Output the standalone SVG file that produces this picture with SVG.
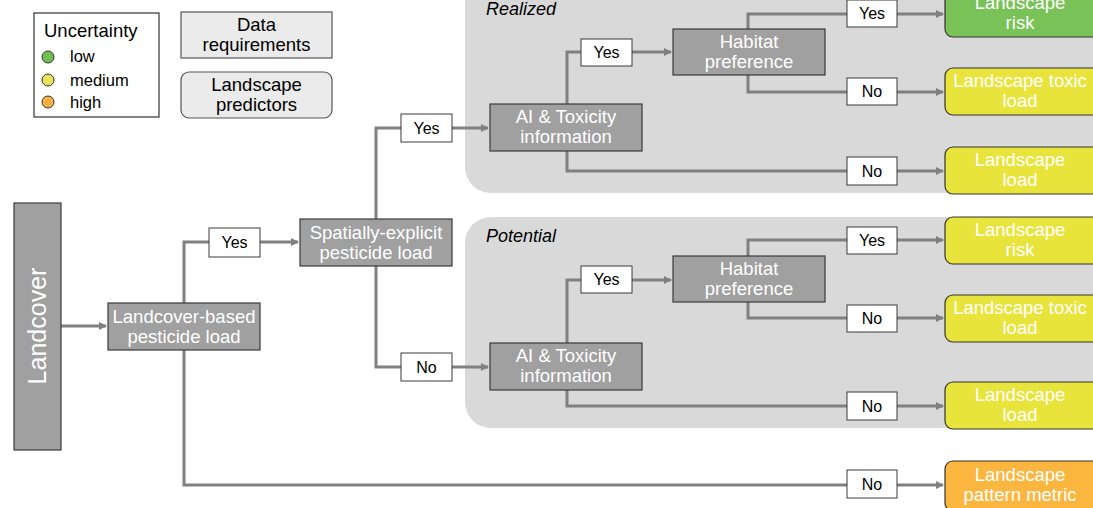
<svg xmlns="http://www.w3.org/2000/svg" width="1093" height="508" viewBox="0 0 1093 508">
<defs>
<marker id="ah" markerWidth="8" markerHeight="8" refX="7" refY="4" orient="auto" markerUnits="userSpaceOnUse">
<path d="M0,0 L8,4 L0,8 Z" fill="#808080"/>
</marker>
<style>
text{font-family:"Liberation Sans",Arial,sans-serif;}
.panel{fill:#d9d9d9;stroke:none;}
.gbox{fill:#a0a0a0;stroke:#3a3a3a;stroke-width:1.2;}
.gt{fill:#ffffff;font-size:18.5px;text-anchor:middle;}
.lab{fill:#ffffff;stroke:#3a3a3a;stroke-width:1;}
.lt{fill:#000;font-size:16px;text-anchor:middle;}
.kt{fill:#000;font-size:18.5px;text-anchor:middle;}
.out{stroke:#333;stroke-width:1.2;}
.green{fill:#78c257;}
.yellow{fill:#e8e43c;}
.orange{fill:#fbb640;}
.con{fill:none;stroke:#808080;stroke-width:3;}
.arr{fill:none;stroke:#808080;stroke-width:3;marker-end:url(#ah);}
.pl{fill:#000;font-size:18px;font-style:italic;}
.leg{fill:#000;font-size:16.5px;}
</style>
</defs>
<rect width="1093" height="508" fill="#ffffff"/>

<g id="panel-realized">
<rect class="panel" x="465" y="-40" width="660" height="233" rx="26"/>
<text class="pl" x="486" y="15">Realized</text>
</g>
<g id="panel-potential">
<rect class="panel" x="465" y="217" width="660" height="211" rx="26"/>
<text class="pl" x="486" y="242">Potential</text>
</g>

<g id="legend">
<rect x="34" y="13" width="125" height="104" fill="#fff" stroke="#333" stroke-width="1.2"/>
<text x="44" y="37" style="font-size:18.5px" fill="#000">Uncertainty</text>
<circle cx="48" cy="57" r="6" fill="#70c050" stroke="#333" stroke-width="1"/>
<text class="leg" x="70" y="62">low</text>
<circle cx="48" cy="80" r="6" fill="#e8e45a" stroke="#333" stroke-width="1"/>
<text class="leg" x="70" y="86">medium</text>
<circle cx="48" cy="102" r="6" fill="#fbb040" stroke="#333" stroke-width="1"/>
<text class="leg" x="70" y="108">high</text>
</g>
<g id="key-data">
<rect x="181" y="12" width="151" height="46" fill="#ebebeb" stroke="#555" stroke-width="1.2"/>
<text class="kt" x="256.5" y="31">Data</text>
<text class="kt" x="256.5" y="51">requirements</text>
</g>
<g id="key-predictors">
<rect x="181" y="72" width="151" height="46" rx="8" fill="#ebebeb" stroke="#555" stroke-width="1.2"/>
<text class="kt" x="256.5" y="91">Landscape</text>
<text class="kt" x="256.5" y="111">predictors</text>
</g>

<g id="connectors">
<path class="arr" d="M61,326 H106"/>
<path class="con" d="M184,303 V242 H209"/>
<path class="arr" d="M260,242 H298"/>
<path class="con" d="M376,219 V128 H401"/>
<path class="arr" d="M452,128 H488"/>
<path class="con" d="M376,266 V367 H401"/>
<path class="arr" d="M452,367 H488"/>
<path class="con" d="M184,350 V485 H847"/>
<path class="arr" d="M897,485 H943"/>
<path class="con" d="M567,104 V52 H581"/>
<path class="arr" d="M632,52 H671"/>
<path class="con" d="M748,29 V14 H847"/>
<path class="arr" d="M897,14 H943"/>
<path class="con" d="M748,75 V92 H847"/>
<path class="arr" d="M897,92 H943"/>
<path class="con" d="M567,151 V171 H847"/>
<path class="arr" d="M897,171 H943"/>
<path class="con" d="M567,343 V280 H581"/>
<path class="arr" d="M632,280 H671"/>
<path class="con" d="M748,256 V240 H847"/>
<path class="arr" d="M897,240 H943"/>
<path class="con" d="M748,302 V318 H847"/>
<path class="arr" d="M897,318 H943"/>
<path class="con" d="M567,390 V406 H847"/>
<path class="arr" d="M897,406 H943"/>
</g>

<g id="landcover">
<rect class="gbox" x="14" y="203" width="47" height="247"/>
<text class="gt" transform="translate(46,326) rotate(-90)" style="font-size:25px">Landcover</text>
</g>
<g id="landcover-based">
<rect class="gbox" x="108" y="303" width="152" height="47"/>
<text class="gt" x="184" y="323">Landcover-based</text>
<text class="gt" x="184" y="343">pesticide load</text>
</g>
<g id="spatially-explicit">
<rect class="gbox" x="300" y="219" width="152" height="47"/>
<text class="gt" x="376" y="239">Spatially-explicit</text>
<text class="gt" x="376" y="259">pesticide load</text>
</g>

<g id="lbl-yes-1"><rect class="lab" x="209" y="228" width="51" height="29"/><text class="lt" x="234.5" y="248">Yes</text></g>
<g id="lbl-yes-2"><rect class="lab" x="401" y="114" width="51" height="28"/><text class="lt" x="426.5" y="134">Yes</text></g>
<g id="lbl-no-1"><rect class="lab" x="401" y="353" width="51" height="28"/><text class="lt" x="426.5" y="373">No</text></g>
<g id="lbl-no-2"><rect class="lab" x="847" y="470" width="50" height="28"/><text class="lt" x="872" y="490">No</text></g>

<!-- Realized -->
<g id="r-ai">
<rect class="gbox" x="490" y="104" width="152" height="47"/>
<text class="gt" x="566" y="123">AI &amp; Toxicity</text>
<text class="gt" x="566" y="143">information</text>
</g>
<g id="r-habitat">
<rect class="gbox" x="673" y="29" width="152" height="46"/>
<text class="gt" x="749" y="48">Habitat</text>
<text class="gt" x="749" y="68">preference</text>
</g>
<g id="r-lbl-yes-a"><rect class="lab" x="581" y="39" width="51" height="27"/><text class="lt" x="606.5" y="58">Yes</text></g>
<g id="r-lbl-yes-b"><rect class="lab" x="847" y="0" width="50" height="27"/><text class="lt" x="872" y="19">Yes</text></g>
<g id="r-lbl-no-a"><rect class="lab" x="847" y="78" width="50" height="27"/><text class="lt" x="872" y="97">No</text></g>
<g id="r-lbl-no-b"><rect class="lab" x="847" y="157" width="50" height="28"/><text class="lt" x="872" y="177">No</text></g>
<g id="r-risk">
<rect class="out green" x="945" y="-10" width="160" height="47" rx="8"/>
<text class="gt" x="1020" y="9">Landscape</text>
<text class="gt" x="1020" y="29">risk</text>
</g>
<g id="r-toxic">
<rect class="out yellow" x="945" y="68" width="160" height="47" rx="8"/>
<text class="gt" x="1020" y="87">Landscape toxic</text>
<text class="gt" x="1020" y="107">load</text>
</g>
<g id="r-load">
<rect class="out yellow" x="945" y="147" width="160" height="47" rx="8"/>
<text class="gt" x="1020" y="166">Landscape</text>
<text class="gt" x="1020" y="186">load</text>
</g>

<!-- Potential -->
<g id="p-ai">
<rect class="gbox" x="490" y="343" width="152" height="47"/>
<text class="gt" x="566" y="362">AI &amp; Toxicity</text>
<text class="gt" x="566" y="382">information</text>
</g>
<g id="p-habitat">
<rect class="gbox" x="673" y="256" width="152" height="46"/>
<text class="gt" x="749" y="275">Habitat</text>
<text class="gt" x="749" y="295">preference</text>
</g>
<g id="p-lbl-yes-a"><rect class="lab" x="581" y="266" width="51" height="27"/><text class="lt" x="606.5" y="285">Yes</text></g>
<g id="p-lbl-yes-b"><rect class="lab" x="847" y="227" width="50" height="27"/><text class="lt" x="872" y="246">Yes</text></g>
<g id="p-lbl-no-a"><rect class="lab" x="847" y="305" width="50" height="27"/><text class="lt" x="872" y="324">No</text></g>
<g id="p-lbl-no-b"><rect class="lab" x="847" y="392" width="50" height="28"/><text class="lt" x="872" y="412">No</text></g>
<g id="p-risk">
<rect class="out yellow" x="945" y="217" width="160" height="47" rx="8"/>
<text class="gt" x="1020" y="236">Landscape</text>
<text class="gt" x="1020" y="256">risk</text>
</g>
<g id="p-toxic">
<rect class="out yellow" x="945" y="295" width="160" height="47" rx="8"/>
<text class="gt" x="1020" y="314">Landscape toxic</text>
<text class="gt" x="1020" y="334">load</text>
</g>
<g id="p-load">
<rect class="out yellow" x="945" y="382" width="160" height="47" rx="8"/>
<text class="gt" x="1020" y="401">Landscape</text>
<text class="gt" x="1020" y="421">load</text>
</g>

<g id="pattern-metric">
<rect class="out orange" x="945" y="461" width="160" height="50" rx="8"/>
<text class="gt" x="1020" y="481">Landscape</text>
<text class="gt" x="1020" y="501">pattern metric</text>
</g>
</svg>
